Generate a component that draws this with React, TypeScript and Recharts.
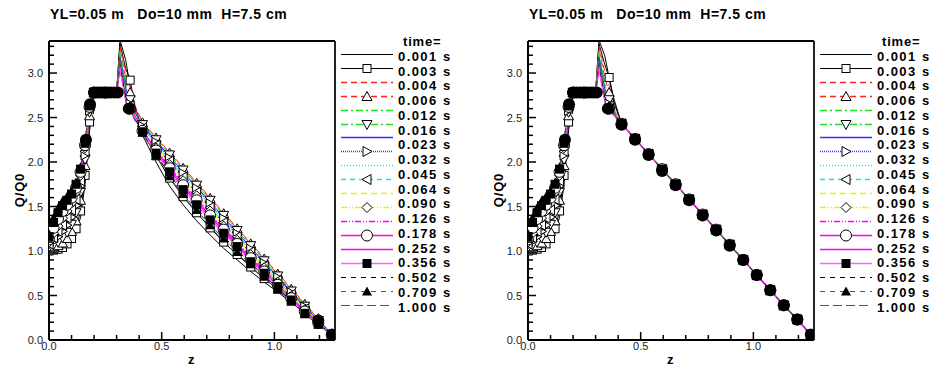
import React from 'react';
import { ComposedChart, Line, XAxis, YAxis, Legend, ReferenceLine } from 'recharts';

const timeLabels = ['0.001', '0.003', '0.004', '0.006', '0.012', '0.016', '0.023', '0.032', '0.045', '0.064', '0.090', '0.126', '0.178', '0.252', '0.356', '0.502', '0.709', '1.000'];

const zRise = [0, 0.02, 0.04, 0.06, 0.08, 0.10, 0.12, 0.14, 0.16, 0.18, 0.20, 0.25, 0.30, 0.315];
const zFall = [0.34, 0.36, 0.38, 0.415, 0.475, 0.535, 0.595, 0.655, 0.715, 0.775, 0.835, 0.895, 0.955, 1.015, 1.075, 1.135, 1.195, 1.255];

const riseQ = [
  [1.00, 1.00, 1.01, 1.02, 1.05, 1.10, 1.20, 1.38, 1.75, 2.35, 2.78, 2.78, 2.78, 3.37],
  [1.00, 1.01, 1.02, 1.04, 1.08, 1.14, 1.25, 1.45, 1.85, 2.45, 2.78, 2.78, 2.78, 3.33],
  [1.01, 1.02, 1.04, 1.07, 1.11, 1.18, 1.30, 1.52, 1.92, 2.50, 2.78, 2.78, 2.79, 3.30],
  [1.02, 1.03, 1.06, 1.09, 1.14, 1.22, 1.34, 1.57, 1.96, 2.52, 2.78, 2.78, 2.79, 3.28],
  [1.03, 1.05, 1.08, 1.12, 1.18, 1.26, 1.39, 1.62, 2.00, 2.54, 2.78, 2.78, 2.79, 3.24],
  [1.04, 1.07, 1.10, 1.15, 1.21, 1.30, 1.43, 1.66, 2.03, 2.56, 2.78, 2.78, 2.79, 3.21],
  [1.05, 1.09, 1.13, 1.18, 1.25, 1.34, 1.47, 1.70, 2.06, 2.57, 2.78, 2.78, 2.79, 3.18],
  [1.06, 1.11, 1.16, 1.22, 1.29, 1.38, 1.51, 1.73, 2.08, 2.58, 2.78, 2.78, 2.79, 3.15],
  [1.07, 1.13, 1.19, 1.26, 1.33, 1.42, 1.55, 1.76, 2.10, 2.59, 2.78, 2.78, 2.79, 3.13],
  [1.08, 1.15, 1.22, 1.29, 1.37, 1.46, 1.58, 1.79, 2.12, 2.60, 2.78, 2.78, 2.79, 3.12],
  [1.09, 1.17, 1.25, 1.33, 1.41, 1.50, 1.62, 1.82, 2.14, 2.61, 2.78, 2.78, 2.79, 3.10],
  [1.10, 1.20, 1.28, 1.37, 1.45, 1.54, 1.66, 1.85, 2.16, 2.61, 2.78, 2.78, 2.79, 3.09],
  [1.12, 1.23, 1.32, 1.41, 1.49, 1.57, 1.69, 1.87, 2.18, 2.62, 2.78, 2.78, 2.79, 3.07],
  [1.13, 1.26, 1.36, 1.45, 1.52, 1.60, 1.71, 1.89, 2.19, 2.62, 2.78, 2.78, 2.79, 3.06],
  [1.15, 1.29, 1.40, 1.48, 1.55, 1.62, 1.73, 1.91, 2.20, 2.63, 2.78, 2.78, 2.79, 3.05],
  [1.16, 1.32, 1.43, 1.51, 1.57, 1.64, 1.75, 1.92, 2.21, 2.63, 2.78, 2.78, 2.79, 3.05],
  [1.18, 1.35, 1.46, 1.54, 1.59, 1.66, 1.76, 1.93, 2.22, 2.64, 2.78, 2.78, 2.79, 3.10],
  [1.19, 1.37, 1.48, 1.56, 1.61, 1.67, 1.77, 1.94, 2.23, 2.64, 2.78, 2.78, 2.79, 3.12],
  [1.20, 1.38, 1.50, 1.57, 1.62, 1.68, 1.78, 1.95, 2.23, 2.65, 2.78, 2.78, 2.79, 3.15],
];

const leftFallQ = [
  [3.15, 2.85, 2.60, 2.30, 2.00, 1.73, 1.52, 1.34, 1.18, 1.03, 0.90, 0.77, 0.65, 0.54, 0.42, 0.31, 0.19, 0.06],
  [3.05, 2.92, 2.64, 2.36, 2.07, 1.82, 1.61, 1.43, 1.26, 1.10, 0.96, 0.82, 0.69, 0.57, 0.45, 0.33, 0.20, 0.06],
  [3.02, 2.86, 2.64, 2.45, 2.28, 2.11, 1.94, 1.77, 1.60, 1.43, 1.26, 1.09, 0.92, 0.75, 0.58, 0.41, 0.24, 0.06],
  [2.95, 2.78, 2.60, 2.44, 2.27, 2.10, 1.93, 1.76, 1.59, 1.42, 1.25, 1.08, 0.91, 0.74, 0.57, 0.40, 0.24, 0.06],
  [2.90, 2.73, 2.58, 2.43, 2.26, 2.09, 1.92, 1.75, 1.58, 1.41, 1.24, 1.07, 0.90, 0.73, 0.56, 0.39, 0.23, 0.06],
  [2.86, 2.70, 2.57, 2.42, 2.25, 2.08, 1.91, 1.74, 1.57, 1.40, 1.23, 1.06, 0.89, 0.72, 0.55, 0.38, 0.22, 0.06],
  [2.83, 2.67, 2.56, 2.41, 2.24, 2.06, 1.89, 1.72, 1.55, 1.38, 1.21, 1.04, 0.87, 0.71, 0.54, 0.37, 0.22, 0.06],
  [2.80, 2.65, 2.55, 2.40, 2.22, 2.04, 1.87, 1.70, 1.53, 1.36, 1.19, 1.02, 0.86, 0.70, 0.53, 0.37, 0.21, 0.06],
  [2.78, 2.64, 2.55, 2.39, 2.20, 2.02, 1.85, 1.68, 1.51, 1.34, 1.17, 1.01, 0.85, 0.69, 0.52, 0.36, 0.21, 0.06],
  [2.77, 2.63, 2.54, 2.38, 2.19, 2.01, 1.83, 1.66, 1.49, 1.32, 1.16, 0.99, 0.83, 0.67, 0.51, 0.35, 0.20, 0.06],
  [2.76, 2.62, 2.54, 2.37, 2.17, 1.99, 1.81, 1.64, 1.47, 1.30, 1.14, 0.98, 0.82, 0.66, 0.50, 0.35, 0.20, 0.06],
  [2.75, 2.62, 2.53, 2.36, 2.16, 1.97, 1.79, 1.62, 1.45, 1.28, 1.12, 0.96, 0.81, 0.65, 0.49, 0.34, 0.20, 0.06],
  [2.73, 2.61, 2.52, 2.35, 2.14, 1.95, 1.76, 1.59, 1.42, 1.26, 1.10, 0.94, 0.79, 0.64, 0.48, 0.33, 0.19, 0.06],
  [2.72, 2.60, 2.52, 2.35, 2.13, 1.93, 1.74, 1.57, 1.40, 1.24, 1.08, 0.92, 0.77, 0.62, 0.47, 0.32, 0.19, 0.06],
  [2.71, 2.60, 2.51, 2.34, 2.12, 1.91, 1.72, 1.55, 1.38, 1.22, 1.07, 0.90, 0.76, 0.61, 0.46, 0.31, 0.18, 0.06],
  [2.70, 2.60, 2.50, 2.34, 2.10, 1.89, 1.69, 1.52, 1.35, 1.20, 1.05, 0.88, 0.75, 0.60, 0.45, 0.30, 0.18, 0.06],
  [2.74, 2.60, 2.49, 2.33, 2.08, 1.86, 1.66, 1.48, 1.31, 1.16, 1.01, 0.86, 0.72, 0.58, 0.44, 0.30, 0.18, 0.06],
  [2.76, 2.60, 2.48, 2.33, 2.07, 1.84, 1.64, 1.46, 1.29, 1.14, 0.99, 0.85, 0.71, 0.57, 0.43, 0.29, 0.17, 0.06],
  [2.78, 2.60, 2.47, 2.32, 2.06, 1.83, 1.62, 1.44, 1.27, 1.12, 0.97, 0.83, 0.70, 0.56, 0.43, 0.29, 0.17, 0.06],
];

const rightTailQ = [
  [3.20, 2.95, 2.72], [3.10, 2.95, 2.68], [3.02, 2.86, 2.64], [2.95, 2.78, 2.60],
  [2.90, 2.73, 2.58], [2.86, 2.70, 2.57], [2.83, 2.67, 2.56], [2.80, 2.65, 2.55],
  [2.78, 2.64, 2.55], [2.77, 2.63, 2.54], [2.76, 2.62, 2.54], [2.75, 2.62, 2.54],
  [2.73, 2.61, 2.53], [2.72, 2.60, 2.53], [2.71, 2.60, 2.53], [2.70, 2.60, 2.53],
  [2.74, 2.61, 2.53], [2.76, 2.62, 2.54], [2.78, 2.63, 2.54],
];
const rightFallQ = [2.43, 2.26, 2.09, 1.92, 1.75, 1.58, 1.41, 1.24, 1.07, 0.90, 0.73, 0.56, 0.39, 0.23, 0.06];

const zSteadyLeft = [0.164, 0.182, 0.2, 0.215, 0.23, 0.245, 0.26, 0.275, 0.29, 0.305, 0.354, 1.195, 1.255];
const leftSteadyQ = [2.25, 2.65, 2.78, 2.78, 2.78, 2.78, 2.78, 2.78, 2.78, 2.78, 2.6, 0.22, 0.06];
const zSteadyRight = [0.164, 0.182, 0.2, 0.215, 0.23, 0.245, 0.26, 0.275, 0.29, 0.305, 0.354, 0.415, 0.475, 0.535, 0.595, 0.655, 0.715, 0.775, 0.835, 0.895, 0.955, 1.015, 1.075, 1.135, 1.195, 1.255];
const rightSteadyQ = [2.25, 2.65, 2.78, 2.78, 2.78, 2.78, 2.78, 2.78, 2.78, 2.78, 2.6, 2.42, 2.25, 2.08, 1.9, 1.74, 1.57, 1.4, 1.23, 1.06, 0.9, 0.73, 0.56, 0.39, 0.23, 0.06];

const xTicks = [0, 0.1, 0.2, 0.3, 0.4, 0.5, 0.6, 0.7, 0.8, 0.9, 1.0, 1.1, 1.2];
const yTicks = [0, 0.1, 0.2, 0.3, 0.4, 0.5, 0.6, 0.7, 0.8, 0.9, 1.0, 1.1, 1.2, 1.3, 1.4, 1.5, 1.6, 1.7, 1.8, 1.9, 2.0, 2.1, 2.2, 2.3, 2.4, 2.5, 2.6, 2.7, 2.8, 2.9, 3.0, 3.1, 3.2, 3.3];
const X_MAX = 1.269;
const Y_MAX = 3.36;

const titleText = 'YL=0.05 m   Do=10 mm  H=7.5 cm';

// point indices (in the joined rise+fall table) where symbols are skipped, as on the spike
const markerSkip = [12, 13, 14, 16];

// styles (19 line styles, legend has 18 labels)
const styles = [
  { c: '#000000', d: undefined, m: null, w: 1 },
  { c: '#000000', d: undefined, m: 'sq', w: 1 },
  { c: '#ff2020', d: '6 4', m: null, w: 1 },
  { c: '#ff2020', d: '6 4', m: 'tu', w: 1 },
  { c: '#20dd20', d: '7 3 2 3', m: null, w: 1 },
  { c: '#20dd20', d: '7 3 2 3', m: 'td', w: 1 },
  { c: '#3030ff', d: undefined, m: null, w: 1 },
  { c: '#3030ff', d: '1 1', m: 'tr', w: 1.3 },
  { c: '#00eeee', d: '1 2', m: null, w: 1 },
  { c: '#00eeee', d: '5 4', m: 'tl', w: 1 },
  { c: '#eeee00', d: '6 4', m: null, w: 1 },
  { c: '#eeee00', d: '6 2 1 2 1 2', m: 'di', w: 1 },
  { c: '#ff00ff', d: '6 2 1 2 1 2', m: null, w: 1.2 },
  { c: '#ff00ff', d: undefined, m: 'ci', w: 1.2 },
  { c: '#ff00ff', d: undefined, m: null, w: 1.2 },
  { c: '#ff60ff', d: undefined, m: 'fsq', w: 1.5 },
  { c: '#000000', d: '5 5', m: null, w: 1 },
  { c: '#555555', d: '5 5', m: 'ftu', w: 1 },
  { c: '#555555', d: '9 4', m: null, w: 1 },
];

const FONT = '"Liberation Sans", Arial, Helvetica, sans-serif';

function marker(type: string | null, cx: number, cy: number, key: string) {
  if (!type || cx == null || cy == null) return <g key={key} />;
  switch (type) {
    case 'sq':
      return <rect key={key} x={cx - 4} y={cy - 4} width={8} height={8} fill="#fff" stroke="#000" strokeWidth={1} />;
    case 'tu':
      return <polygon key={key} points={`${cx},${cy - 5} ${cx + 5},${cy + 4} ${cx - 5},${cy + 4}`} fill="#fff" stroke="#000" strokeWidth={1} />;
    case 'td':
      return <polygon key={key} points={`${cx},${cy + 5} ${cx + 5},${cy - 4} ${cx - 5},${cy - 4}`} fill="#fff" stroke="#000" strokeWidth={1} />;
    case 'tr':
      return <polygon key={key} points={`${cx + 5},${cy} ${cx - 4},${cy - 5} ${cx - 4},${cy + 5}`} fill="#fff" stroke="#000" strokeWidth={1} />;
    case 'tl':
      return <polygon key={key} points={`${cx - 5},${cy} ${cx + 4},${cy - 5} ${cx + 4},${cy + 5}`} fill="#fff" stroke="#000" strokeWidth={1} />;
    case 'di':
      return <polygon key={key} points={`${cx},${cy - 5} ${cx + 5},${cy} ${cx},${cy + 5} ${cx - 5},${cy}`} fill="#fff" stroke="#000" strokeWidth={1} />;
    case 'ci':
      return <circle key={key} cx={cx} cy={cy} r={5.5} fill="#fff" stroke="#000" strokeWidth={1} />;
    case 'fsq':
      return <rect key={key} x={cx - 4.5} y={cy - 4.5} width={9} height={9} fill="#000" />;
    case 'ftu':
      return <polygon key={key} points={`${cx},${cy - 5} ${cx + 5},${cy + 4} ${cx - 5},${cy + 4}`} fill="#000" />;
    case 'fci':
      return <circle key={key} cx={cx} cy={cy} r={6} fill="#000" />;
    default:
      return <g key={key} />;
  }
}

const XTick = (props: any) => {
  const { x, y, payload } = props;
  const v = payload.value;
  const major = Math.abs(v * 2 - Math.round(v * 2)) < 1e-6;
  return (
    <g>
      <line x1={x} x2={x} y1={y} y2={y - (major ? 8 : 5)} stroke="#000" strokeWidth={1.5} />
      {major && (
        <text x={x} y={y + 10} textAnchor="middle" fontSize={11} fontFamily={FONT} fill="#222">
          {v.toFixed(1)}
        </text>
      )}
    </g>
  );
};

const YTick = (props: any) => {
  const { x, y, payload } = props;
  const v = payload.value;
  const major = Math.abs(v * 2 - Math.round(v * 2)) < 1e-6;
  return (
    <g>
      <line x1={x} x2={x + (major ? 8 : 5)} y1={y} y2={y} stroke="#000" strokeWidth={1.5} />
      {major && (
        <text x={x - 6} y={y + 4} textAnchor="end" fontSize={11} fontFamily={FONT} fill="#222">
          {v.toFixed(1)}
        </text>
      )}
    </g>
  );
};

const LegendBox = () => {
  const lineY0 = 23.7;
  const lineStep = 13.96;
  const textY0 = 26.3;
  const textStep = 14.76;
  return (
    <svg width={132} height={290} style={{ overflow: 'visible' }}>
      <text x={67} y={16} fontSize={13} fontWeight="bold" fontFamily={FONT} letterSpacing={0.8} fill="#000">
        time=
      </text>
      {styles.map((s, k) => {
        const y = Math.round(lineY0 + k * lineStep) + 0.5;
        const colored = s.c !== '#000000' && s.c !== '#555555';
        return (
          <g key={k}>
            <line x1={5} x2={57} y1={y} y2={y} stroke={s.c} strokeWidth={colored ? 1.4 : 1} strokeDasharray={s.d} />
            {marker(s.m, 31, y, 'lm' + k)}
          </g>
        );
      })}
      {timeLabels.map((t, k) => (
        <g key={t}>
          <text x={62} y={textY0 + k * textStep + 4.5} fontSize={13} fontWeight="bold" fontFamily={FONT} letterSpacing={1.4} fill="#000">
            {t}
          </text>
          <text x={107} y={textY0 + k * textStep + 4.5} fontSize={13} fontWeight="bold" fontFamily={FONT} fill="#000">
            s
          </text>
        </g>
      ))}
    </svg>
  );
};

function buildLeft(i: number) {
  return [
    ...zRise.map((z, k) => ({ z, q: riseQ[i][k] })),
    ...zFall.map((z, k) => ({ z, q: leftFallQ[i][k] })),
  ];
}
function buildRight(i: number) {
  return [
    ...zRise.map((z, k) => ({ z, q: riseQ[i][k] })),
    ...zFall.map((z, k) => ({ z, q: k < 3 ? rightTailQ[i][k] : rightFallQ[k - 3] })),
  ];
}

function Panel({ left, width, yAxisW, marginRight, build, steadyZ, steadyQ, legendLeft, labelX }: any) {
  const steadyData = steadyZ.map((z: number, k: number) => ({ z, q: steadyQ[k] }));
  return (
    <div style={{ position: 'absolute', left, top: 0, width, height: 371 }}>
      <ComposedChart width={width} height={371} margin={{ top: 41, right: marginRight, bottom: 0, left: 0 }}>
        <XAxis
          dataKey="z"
          type="number"
          domain={[0, X_MAX]}
          ticks={xTicks}
          interval={0}
          height={31}
          tickSize={0}
          tickMargin={0}
          tickLine={false}
          tick={<XTick />}
          axisLine={{ stroke: '#000', strokeWidth: 2 }}
          allowDataOverflow
        />
        <YAxis
          type="number"
          domain={[0, Y_MAX]}
          ticks={yTicks}
          interval={0}
          width={yAxisW}
          tickSize={0}
          tickMargin={0}
          tickLine={false}
          tick={<YTick />}
          axisLine={{ stroke: '#000', strokeWidth: 2 }}
          allowDataOverflow
        />
        <ReferenceLine x={X_MAX} stroke="#222" strokeWidth={2} ifOverflow="visible" />
        <ReferenceLine y={Y_MAX} stroke="#000" strokeWidth={2} ifOverflow="visible" />
        {styles.map((s, i) => (
          <Line
            key={'s' + i}
            data={build(i)}
            dataKey="q"
            type="linear"
            stroke={s.c}
            strokeWidth={s.w}
            strokeDasharray={s.d}
            isAnimationActive={false}
            dot={(p: any) =>
              markerSkip.includes(p.index)
                ? <g key={'m' + i + '_' + p.index} />
                : marker(s.m, p.cx, p.cy, 'm' + i + '_' + p.index)
            }
            activeDot={false}
            legendType="none"
          />
        ))}
        <Line
          data={steadyData}
          dataKey="q"
          stroke="none"
          isAnimationActive={false}
          dot={(p: any) => marker('fci', p.cx, p.cy, 'st' + p.index)}
          activeDot={false}
          legendType="none"
        />
        <Legend
          layout="horizontal"
          verticalAlign="middle"
          align="center"
          content={() => <LegendBox />}
          wrapperStyle={{ left: legendLeft, top: 30, width: 132, height: 290 }}
        />
      </ComposedChart>
      <div
        style={{
          position: 'absolute', left: yAxisW + 1, top: 6, fontFamily: FONT, fontWeight: 'bold', fontSize: 14,
          letterSpacing: 0.5, whiteSpace: 'pre', color: '#000', lineHeight: '17px',
        }}
      >
        {titleText}
      </div>
      <div
        style={{
          position: 'absolute', left: labelX, top: 352, fontFamily: FONT, fontWeight: 'bold', fontSize: 13,
          color: '#000', lineHeight: '16px',
        }}
      >
        z
      </div>
      <div
        style={{
          position: 'absolute', left: yAxisW - 29 - 20, top: 182, width: 40, textAlign: 'center',
          transform: 'rotate(-90deg)', fontFamily: FONT, fontWeight: 'bold', fontSize: 13,
          letterSpacing: 0.8, color: '#000', lineHeight: '16px',
        }}
      >
        Q/Q0
      </div>
    </div>
  );
}

export default function App() {
  return (
    <div style={{ position: 'absolute', left: 0, top: 0, width: 937, height: 371, background: '#fff', overflow: 'hidden' }}>
      <Panel left={0} width={468} yAxisW={49} marginRight={133} build={buildLeft} steadyZ={zSteadyLeft} steadyQ={leftSteadyQ} legendLeft={336} labelX={188} />
      <Panel left={468} width={469} yAxisW={60} marginRight={123} build={buildRight} steadyZ={zSteadyRight} steadyQ={rightSteadyQ} legendLeft={347} labelX={199} />
    </div>
  );
}
